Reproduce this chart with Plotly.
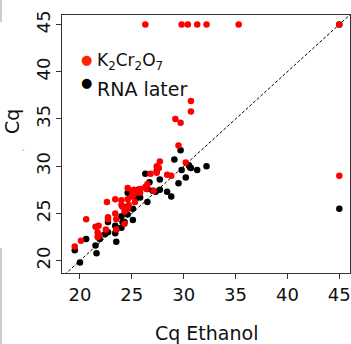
import plotly.graph_objects as go

# K2Cr2O7 (red) vs ethanol
eth_k2 = [19.5, 20.1, 20.6, 21.5, 21.8, 21.7, 21.9, 21.7, 22.6, 22.7, 22.7, 22.5,
          23.4, 23.4, 23.5, 23.5, 24.0, 24.0, 24.1, 24.3, 24.3, 24.6, 24.6, 24.7,
          24.6, 25.0, 25.0, 25.1, 25.2, 25.3, 25.4, 25.8, 25.8, 26.3, 26.4, 26.5,
          26.8, 27.1, 27.4, 27.4, 27.5, 27.7, 27.6, 28.4, 28.8, 29.5, 29.2, 29.7,
          30.2, 30.7, 30.7, 45.0,
          26.3, 29.8, 30.4, 31.3, 32.2, 35.3, 45.0]
cq_k2 = [21.5, 22.1, 24.4, 23.6, 23.7, 23.0, 22.7, 22.5, 26.2, 24.6, 24.4, 23.3,
         26.5, 25.0, 24.4, 23.3, 26.4, 25.9, 25.7, 25.2, 23.9, 27.7, 26.5, 25.9,
         25.5, 27.4, 26.8, 26.9, 27.5, 26.2, 27.2, 27.2, 27.6, 27.8, 27.6, 28.1,
         29.2, 27.4, 29.3, 30.0, 29.8, 30.5, 29.8, 29.1, 29.0, 32.2, 35.0, 34.6,
         30.4, 36.9, 35.8, 29.0,
         45.0, 45.0, 45.0, 45.0, 45.0, 45.0, 45.0]

# RNA later (black) vs ethanol
eth_rna = [19.5, 20.0, 20.6, 21.5, 21.6, 21.9, 22.4, 22.7, 22.7, 23.4, 23.4, 23.5,
           23.5, 24.0, 24.0, 24.1, 24.3, 24.6, 24.6, 24.6, 24.6, 25.1, 25.1, 25.4,
           25.6, 25.8, 26.3, 26.5, 26.5, 26.7, 27.0, 27.3, 27.4, 27.7, 27.7, 28.4,
           28.8, 29.1, 29.5, 29.7, 29.8, 30.2, 30.5, 30.6, 30.7, 31.3, 32.2, 45.0,
           45.0]
cq_rna = [21.1, 19.8, 22.3, 21.6, 20.8, 22.3, 22.8, 23.0, 24.1, 22.9, 23.7, 22.0,
          23.3, 23.5, 24.7, 24.1, 24.1, 27.2, 25.7, 24.9, 25.6, 25.5, 24.3, 26.6,
          27.5, 26.7, 29.2, 26.2, 27.6, 28.3, 27.4, 27.3, 29.5, 28.6, 27.5, 27.3,
          26.8, 30.7, 28.2, 31.7, 29.6, 28.8, 30.1, 29.9, 29.8, 29.6, 30.0, 25.5,
          45.0]

ticks = [20, 25, 30, 35, 40, 45]
diag = [0, 60]

fig = go.Figure()
fig.add_trace(go.Scatter(x=diag, y=diag, mode="lines",
                         line=dict(color="black", width=1, dash="3px,2px"),
                         hoverinfo="skip", showlegend=False))
fig.add_trace(go.Scatter(x=eth_rna, y=cq_rna, mode="markers", name="RNA later",
                         marker=dict(color="black", size=6.5), showlegend=False))
fig.add_trace(go.Scatter(x=eth_k2, y=cq_k2, mode="markers", name="K2Cr2O7",
                         marker=dict(color="#FF0000", size=6.5), showlegend=False))

font = "DejaVu Sans"
axis_common = dict(showgrid=False, zeroline=False, showline=True, mirror=True,
                   linecolor="#333", linewidth=1.2, ticks="outside", ticklen=5,
                   tickcolor="#333", tickvals=ticks,
                   tickfont=dict(family=font, size=18, color="#111"))
fig.update_xaxes(range=[18.27, 46.03], **axis_common)
fig.update_yaxes(range=[18.7, 46.0], tickangle=-90, ticklabelstandoff=-1,
                 **axis_common)

anns = [
    dict(text="Cq Ethanol", x=0.5, y=-0.2326, xref="paper", yref="paper",
         xanchor="center", yanchor="middle", showarrow=False,
         font=dict(family=font, size=19, color="#111")),
    dict(text="Cq", x=-0.1736, y=0.585, xref="paper", yref="paper", textangle=-90,
         xanchor="center", yanchor="middle", showarrow=False,
         font=dict(family=font, size=19, color="#111")),
    dict(text="-", x=-0.135, y=0.477, xref="paper", yref="paper",
         xanchor="center", yanchor="middle", showarrow=False,
         font=dict(family=font, size=7, color="#666")),
    dict(text="●", x=0.0868, y=0.826, xref="paper", yref="paper",
         xanchor="center", yanchor="middle", showarrow=False,
         font=dict(family=font, size=13, color="#FF2200")),
    dict(text="K<sub>2</sub>Cr<sub>2</sub>O<sub>7</sub>", x=0.115, y=0.818,
         xref="paper", yref="paper", xanchor="left", yanchor="middle",
         showarrow=False, font=dict(family=font, size=17, color="#111")),
    dict(text="●", x=0.0868, y=0.737, xref="paper", yref="paper",
         xanchor="center", yanchor="middle", showarrow=False,
         font=dict(family=font, size=13, color="black")),
    dict(text="RNA later", x=0.115, y=0.714, xref="paper", yref="paper",
         xanchor="left", yanchor="middle", showarrow=False,
         font=dict(family=font, size=19, color="#111")),
]

shapes = [
    dict(type="line", xref="paper", yref="paper", x0=-0.212, x1=-0.212,
         y0=1.06, y1=0.973, line=dict(color="#cccccc", width=2)),
    dict(type="line", xref="paper", yref="paper", x0=-0.212, x1=-0.212,
         y0=0.097, y1=-0.28, line=dict(color="#cccccc", width=2)),
]

fig.update_layout(width=351, height=344, margin=dict(l=62, r=1, t=15, b=71),
                  plot_bgcolor="white", paper_bgcolor="white",
                  annotations=anns, shapes=shapes, showlegend=False)

fig.write_html("out.html", config={"displayModeBar": False},
               post_script="document.body.style.margin='0px';document.body.style.overflow='hidden';")
